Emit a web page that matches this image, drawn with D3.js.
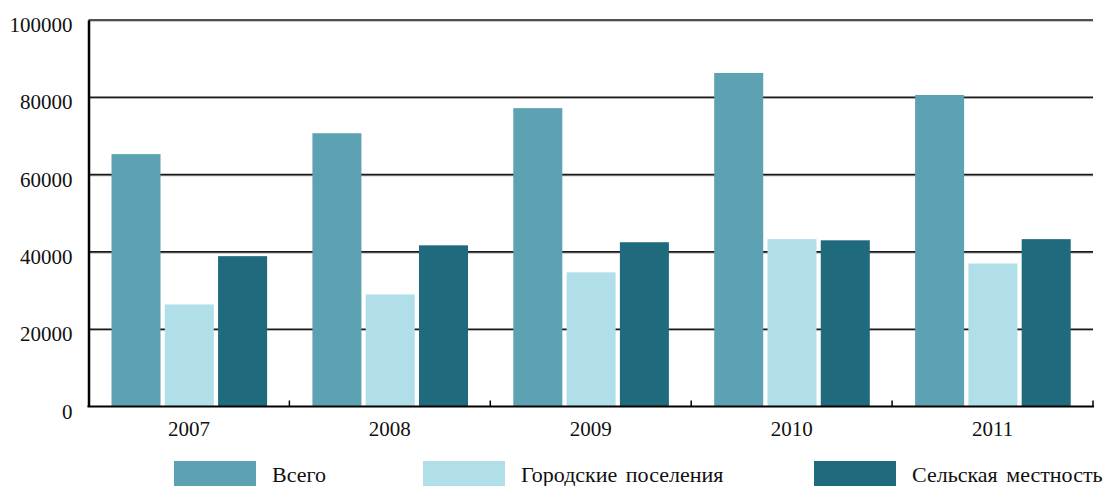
<!DOCTYPE html>
<html>
<head>
<meta charset="utf-8">
<script src="https://cdn.jsdelivr.net/npm/d3@7"></script>
<style>
  html, body { margin: 0; padding: 0; background: #fff; }
  svg { display: block; }
  text { font-family: "Liberation Serif", "DejaVu Serif", serif; fill: #111; }
</style>
</head>
<body>
<svg id="chart" width="1111" height="486"></svg>
<script>
// Years on the category axis
const years = ["2007", "2008", "2009", "2010", "2011"];
// Series names (legend)
const seriesNames = ["Всего", "Городские поселения", "Сельская местность"];
// Values per series, one per year
const total = [65300, 70700, 77200, 86300, 80600];
const urban = [26400, 29000, 34700, 43300, 37000];
const rural = [38900, 41700, 42500, 43000, 43300];
// Y axis tick values
const yTicks = [0, 20000, 40000, 60000, 80000, 100000];

const seriesValues = [total, urban, rural];
const colors = ["#5da2b3", "#b0dee9", "#206a7d"];

const svg = d3.select("#chart");
const plotLeft = 88.5, plotRight = 1093, plotTop = 20, plotBottom = 406.5;

const x0 = d3.scaleBand().domain(years).range([plotLeft, plotRight]).padding(0);
const x1 = d3.scaleBand().domain(d3.range(seriesNames.length))
  .range([23, 178.6]).paddingInner(0.08).paddingOuter(0);
const y = d3.scaleLinear().domain([0, 100000]).range([plotBottom, plotTop]);

// Horizontal grid lines
const grid = svg.append("g");
grid.selectAll("line.shadow").data(yTicks.filter(d => d > 0)).join("line")
  .attr("class", "shadow")
  .attr("x1", plotLeft).attr("x2", plotRight)
  .attr("y1", d => y(d) + 1.2).attr("y2", d => y(d) + 1.2)
  .attr("stroke", "#b0b0b0").attr("stroke-width", 1);
grid.selectAll("line.main").data(yTicks.filter(d => d > 0)).join("line")
  .attr("class", "main")
  .attr("x1", plotLeft).attr("x2", plotRight)
  .attr("y1", d => y(d)).attr("y2", d => y(d))
  .attr("stroke", "#1a1a1a").attr("stroke-width", 1.6);

// Bars
const groups = svg.append("g").selectAll("g").data(years).join("g")
  .attr("transform", d => `translate(${x0(d)},0)`);
groups.selectAll("rect").data((d, i) => seriesValues.map((s, k) => ({ k, v: s[i] })))
  .join("rect")
  .attr("x", d => x1(d.k))
  .attr("width", x1.bandwidth())
  .attr("y", d => y(d.v))
  .attr("height", d => plotBottom - y(d.v))
  .attr("fill", d => colors[d.k]);

// Y axis
const yAxis = d3.axisLeft(y).tickValues(yTicks).tickSize(0).tickPadding(16)
  .tickFormat(d3.format("d"));
const gy = svg.append("g").attr("transform", `translate(${plotLeft},0)`).call(yAxis);
gy.attr("font-family", null);
gy.select(".domain").attr("stroke", "#000").attr("stroke-width", 2.5);
gy.selectAll("text").attr("font-size", 21).attr("dy", "0.55em")
  .style("font-family", '"Liberation Serif", serif').attr("fill", "#111");

// X axis with ticks at band boundaries pointing up
const gx = svg.append("g").attr("transform", `translate(0,${plotBottom})`);
gx.append("line").attr("x1", plotLeft - 1).attr("x2", plotRight + 1)
  .attr("stroke", "#000").attr("stroke-width", 2.2);
const bounds = years.map(d => x0(d) + x0.bandwidth());
gx.selectAll("line.tick").data(bounds).join("line")
  .attr("class", "tick")
  .attr("x1", d => d).attr("x2", d => d)
  .attr("y1", 0).attr("y2", -6)
  .attr("stroke", "#000").attr("stroke-width", 1.5);
gx.selectAll("text").data(years).join("text")
  .attr("x", d => x0(d) + x0.bandwidth() / 2)
  .attr("y", 29)
  .attr("text-anchor", "middle")
  .attr("font-size", 21)
  .text(d => d);

// Legend
const legendX = [174, 423, 814];
const legend = svg.append("g").selectAll("g").data(seriesNames).join("g")
  .attr("transform", (d, i) => `translate(${legendX[i]},461)`);
legend.append("rect").attr("width", 82).attr("height", 27)
  .attr("fill", (d, i) => colors[i]);
legend.append("text").attr("x", 98).attr("y", 20.5)
  .attr("font-size", 22).attr("word-spacing", 3).text(d => d);
</script>
</body>
</html>
